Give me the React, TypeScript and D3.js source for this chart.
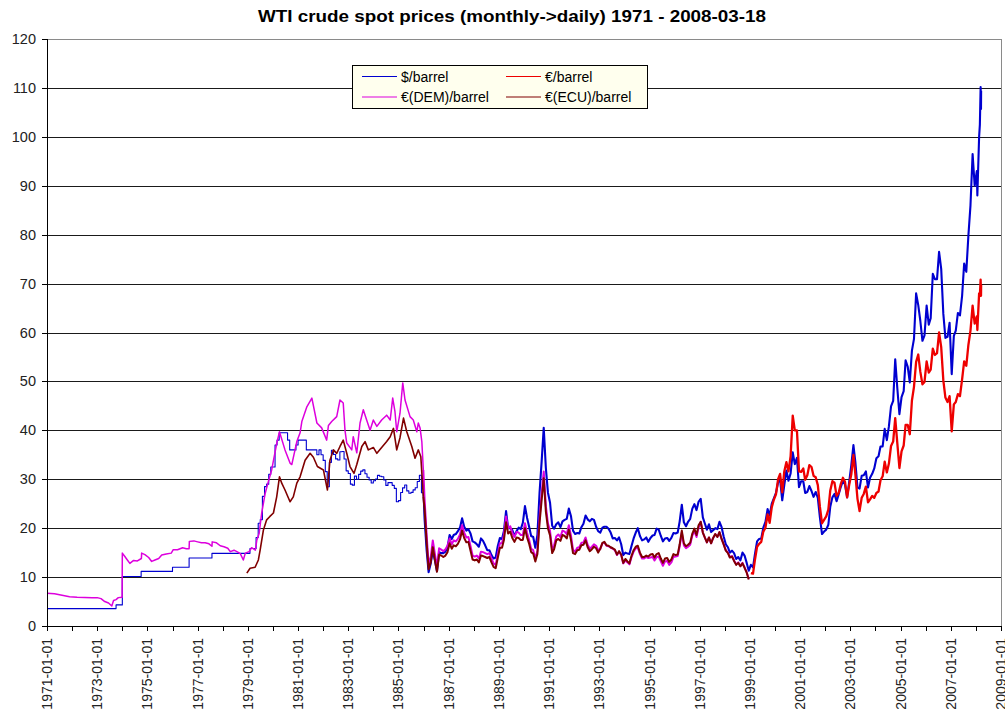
import React from "react";
import * as d3 from "d3";

const TITLE = "WTI crude spot prices (monthly->daily) 1971 - 2008-03-18";
const Y_TICKS = [0, 10, 20, 30, 40, 50, 60, 70, 80, 90, 100, 110, 120];
const X_TICK_YEARS = d3.range(1971, 2010);
const X_LABEL_YEARS = d3.range(1971, 2010, 2);

const LEGEND = [
  { key: "usd", label: "$/barrel", color: "#0000d0" },
  { key: "eur", label: "€/barrel", color: "#ee0000" },
  { key: "dem", label: "€(DEM)/barrel", color: "#dd00dd" },
  { key: "ecu", label: "€(ECU)/barrel", color: "#800000" },
];

// $/barrel: posted price periods (decimal year, value), stepped
const usdPosted: [number, number][] = [
  [1971.0, 3.56], [1973.75, 4.31], [1974.0, 10.11], [1974.75, 11.16],
  [1976.0, 12.0], [1976.66, 13.9], [1977.57, 14.85],
];
// $/barrel monthly 1979-01 .. 1985-12 (stepped)
const usdMonthly1979: number[] = [
  14.85, 15.85, 15.85, 15.85, 18.1, 21.0, 21.75, 26.5, 28.5, 29.0, 31.0, 32.5,
  32.5, 37.0, 38.0, 39.5, 39.5, 39.5, 39.5, 38.0, 36.0, 36.0, 36.0, 37.0,
  38.0, 38.0, 38.0, 38.0, 36.0, 36.0, 36.0, 36.0, 36.0, 35.0, 36.0, 35.0,
  33.85, 31.56, 28.48, 33.45, 35.93, 35.07, 34.16, 33.95, 35.63, 35.68, 34.15, 31.72,
  31.19, 29.0, 28.79, 30.63, 30.0, 31.0, 31.66, 31.91, 31.11, 30.41, 29.84, 29.24,
  29.7, 30.05, 30.8, 30.61, 30.5, 29.84, 28.74, 29.3, 29.3, 28.75, 28.14, 25.4,
  25.64, 27.3, 28.24, 28.81, 27.62, 27.13, 27.31, 27.82, 28.25, 29.54, 30.81, 27.23,
];
// $/barrel monthly 1986-01 .. 2008-01
const usdMonthly1986: number[] = [
  22.0, 15.4, 11.0, 12.8, 15.4, 13.4, 11.2, 15.1, 14.9, 14.9, 15.2, 16.1,
  18.6, 17.8, 18.6, 18.8, 19.4, 20.1, 22.0, 20.3, 19.5, 19.8, 18.9, 17.3,
  17.1, 16.7, 16.2, 17.9, 17.4, 16.5, 15.5, 15.5, 14.5, 13.8, 14.0, 16.3,
  18.0, 17.8, 19.4, 23.5, 20.0, 20.0, 19.6, 18.4, 19.4, 20.1, 19.8, 21.1,
  24.5, 22.1, 20.4, 18.4, 18.2, 16.0, 18.6, 27.2, 33.7, 40.5, 32.3, 27.3,
  25.2, 20.5, 19.9, 20.8, 21.2, 20.2, 21.4, 21.7, 21.9, 24.0, 22.5, 19.5,
  18.8, 19.0, 18.9, 20.2, 20.9, 22.6, 21.8, 21.4, 21.9, 21.7, 20.3, 19.4,
  19.1, 20.1, 20.3, 20.3, 19.9, 19.1, 17.9, 18.0, 17.5, 18.1, 16.7, 14.5,
  15.0, 14.8, 14.7, 16.4, 17.9, 19.1, 20.0, 18.4, 17.5, 17.7, 18.1, 17.2,
  18.0, 18.5, 18.6, 19.9, 19.7, 18.4, 17.3, 17.9, 18.0, 17.4, 18.0, 19.0,
  18.9, 19.1, 21.4, 24.8, 21.2, 20.4, 21.3, 21.9, 24.0, 24.9, 23.7, 25.4,
  26.0, 22.2, 21.0, 19.7, 20.8, 19.2, 19.6, 20.0, 19.8, 21.3, 20.2, 18.3,
  16.7, 16.1, 15.0, 15.4, 14.9, 13.7, 14.1, 13.4, 15.0, 14.4, 12.9, 11.3,
  12.5, 12.0, 14.7, 17.3, 17.8, 17.9, 20.1, 21.3, 23.9, 22.6, 25.0, 26.1,
  27.2, 29.4, 29.9, 25.7, 28.8, 31.8, 29.7, 31.2, 35.5, 33.1, 34.4, 28.4,
  29.6, 29.6, 27.2, 27.4, 28.6, 27.6, 26.4, 27.4, 26.2, 22.2, 18.8, 19.3,
  19.7, 20.7, 24.4, 26.3, 27.0, 25.5, 26.9, 28.4, 29.7, 28.9, 26.3, 29.4,
  32.9, 37.0, 33.5, 28.3, 28.1, 30.7, 30.8, 31.6, 28.3, 30.3, 31.1, 32.2,
  34.3, 34.7, 36.7, 36.7, 40.3, 38.0, 40.8, 44.9, 46.0, 54.5, 48.5, 43.3,
  46.8, 48.0, 54.3, 53.0, 49.8, 56.3, 58.7, 68.0, 65.6, 62.4, 58.3, 59.4,
  65.5, 61.6, 62.9, 72.0, 70.9, 70.9, 76.5, 73.0, 63.8, 58.9, 59.1, 62.0,
  51.5, 59.3, 60.4, 64.0, 63.5, 67.5, 74.1, 72.4, 79.9, 86.0, 96.5, 90.0,
  93.0,
];
const usdTail: [number, number][] = [
  [2008.06, 88.0], [2008.13, 100.0], [2008.16, 102.5], [2008.19, 110.2], [2008.205, 105.7], [2008.21, 109.4],
];

// €/barrel monthly 1999-01 .. 2008-01
const eurMonthly1999: number[] = [
  10.8, 10.7, 13.5, 16.2, 16.8, 17.2, 19.3, 20.1, 22.8, 21.1, 24.3, 25.8,
  26.9, 30.0, 31.1, 27.3, 31.6, 33.5, 31.6, 34.7, 43.0, 40.0, 40.0, 31.6,
  31.5, 32.2, 29.9, 30.8, 32.9, 32.5, 30.7, 30.4, 28.8, 24.4, 21.0, 21.7,
  22.4, 23.8, 27.7, 29.6, 29.3, 26.6, 27.2, 29.0, 30.3, 29.5, 26.3, 28.8,
  31.0, 35.0, 31.0, 26.0, 23.5, 26.2, 27.0, 28.5, 25.3, 25.9, 26.6, 26.2,
  27.2, 27.5, 29.8, 30.6, 33.6, 31.4, 33.2, 36.8, 37.7, 42.5, 37.3, 32.3,
  35.7, 36.9, 41.1, 41.1, 39.2, 46.1, 48.9, 54.0, 55.5, 52.0, 49.4, 49.9,
  54.1, 51.8, 52.4, 56.7, 55.4, 55.8, 60.0, 57.0, 50.2, 46.7, 45.8, 47.0,
  39.8, 45.3, 45.8, 47.4, 47.0, 50.4, 54.1, 53.2, 57.5, 60.4, 65.5, 61.8,
  63.3,
];
const eurTail: [number, number][] = [
  [2008.06, 60.5], [2008.13, 68.0], [2008.16, 67.5], [2008.19, 70.8], [2008.205, 67.5], [2008.21, 69.7],
];

// €(DEM)/barrel 1971 .. 1985 (decimal year, value)
const demEarly: [number, number][] = [
  [1971.0, 6.7], [1971.3, 6.6], [1971.6, 6.3], [1971.9, 6.0], [1972.2, 5.9], [1972.5, 5.85],
  [1972.8, 5.8], [1973.0, 5.8], [1973.15, 5.6], [1973.3, 5.0], [1973.45, 4.7], [1973.58, 4.1],
  [1973.65, 5.2], [1973.75, 5.4], [1973.84, 5.8], [1973.99, 5.9], [1974.0, 14.9], [1974.1, 14.2],
  [1974.2, 13.5], [1974.3, 12.8], [1974.45, 13.4], [1974.6, 13.3], [1974.76, 13.8], [1974.77, 14.9],
  [1974.9, 14.6], [1975.05, 14.0], [1975.17, 13.2], [1975.3, 13.5], [1975.45, 13.8], [1975.57, 14.5],
  [1975.75, 14.7], [1975.95, 14.9], [1976.03, 15.6], [1976.2, 15.6], [1976.4, 16.0], [1976.55, 15.8],
  [1976.66, 15.8], [1976.67, 17.3], [1976.85, 17.4], [1977.0, 17.2], [1977.15, 17.0], [1977.3, 17.0],
  [1977.45, 16.8], [1977.57, 16.3], [1977.58, 17.2], [1977.75, 17.0], [1977.9, 16.4], [1978.05, 16.2],
  [1978.2, 15.9], [1978.3, 15.2], [1978.45, 15.5], [1978.6, 15.1], [1978.7, 14.8], [1978.82, 13.5],
  [1978.9, 14.9], [1979.05, 15.2], [1979.15, 16.0], [1979.3, 15.5], [1979.36, 17.6], [1979.45, 18.9],
  [1979.55, 23.0], [1979.69, 27.1], [1979.8, 29.2], [1979.95, 31.9], [1980.15, 37.3], [1980.26, 39.7],
  [1980.48, 36.0], [1980.68, 33.3], [1980.75, 33.0], [1980.95, 37.7], [1981.08, 39.5], [1981.15, 41.8],
  [1981.35, 44.8], [1981.55, 46.6], [1981.75, 41.5], [1981.94, 40.5], [1982.14, 38.0], [1982.21, 41.0],
  [1982.34, 41.8], [1982.54, 42.8], [1982.67, 46.2], [1982.8, 45.6], [1982.87, 40.0], [1982.94, 37.4],
  [1983.14, 36.0], [1983.2, 38.7], [1983.34, 35.4], [1983.47, 41.5], [1983.6, 44.2], [1983.74, 42.0],
  [1983.87, 40.0], [1984.0, 42.1], [1984.14, 40.8], [1984.33, 42.1], [1984.53, 43.1], [1984.67, 42.1],
  [1984.77, 46.6], [1984.86, 43.8], [1984.93, 39.7], [1985.06, 43.5], [1985.17, 49.7], [1985.26, 46.2],
  [1985.46, 42.8], [1985.59, 42.1], [1985.73, 39.7], [1985.79, 41.5], [1985.86, 40.5], [1985.93, 37.7],
  [1985.99, 31.9],
];
// €(DEM)/barrel monthly 1986-01 .. 1998-12
const demMonthly1986: number[] = [
  26.0, 18.5, 12.6, 14.1, 17.5, 14.7, 12.1, 15.9, 15.6, 15.3, 15.7, 16.4,
  17.9, 16.7, 17.5, 17.3, 17.8, 18.7, 20.6, 19.1, 18.1, 18.2, 16.3, 14.4,
  14.2, 14.4, 13.8, 15.2, 15.1, 14.9, 14.7, 14.9, 13.8, 12.8, 12.5, 14.7,
  16.9, 16.9, 18.6, 22.4, 20.0, 20.4, 19.0, 18.2, 19.2, 19.1, 18.6, 18.6,
  21.0, 19.0, 17.7, 15.8, 15.5, 13.8, 15.4, 22.0, 27.0, 31.6, 24.5, 21.0,
  19.4, 15.6, 16.5, 18.3, 18.7, 18.2, 19.5, 19.3, 18.8, 20.6, 18.5, 15.6,
  15.2, 16.0, 16.1, 17.0, 17.1, 18.1, 16.6, 15.8, 16.2, 16.7, 16.4, 15.5,
  15.7, 16.9, 17.1, 16.4, 16.3, 16.0, 15.8, 15.5, 14.5, 15.2, 14.5, 12.8,
  13.4, 13.0, 12.6, 14.1, 15.2, 15.9, 16.0, 14.7, 13.8, 13.8, 14.1, 13.9,
  14.0, 14.1, 13.4, 14.1, 14.2, 13.2, 12.3, 13.2, 13.3, 12.5, 13.0, 14.1,
  14.2, 14.3, 16.3, 19.1, 16.5, 15.9, 16.2, 16.6, 18.5, 19.4, 18.2, 20.1,
  21.3, 19.1, 18.1, 17.1, 18.1, 16.9, 18.0, 18.8, 18.2, 19.2, 17.8, 16.7,
  15.5, 15.0, 14.1, 14.3, 13.4, 12.6, 13.0, 12.3, 12.9, 12.0, 11.0, 9.6,
];

// €(ECU)/barrel 1979 .. 1985 (decimal year, value)
const ecuEarly: [number, number][] = [
  [1978.96, 10.8], [1979.09, 11.8], [1979.29, 12.0], [1979.42, 13.5], [1979.49, 15.5], [1979.62, 19.6],
  [1979.75, 21.7], [1979.88, 22.4], [1980.02, 23.1], [1980.15, 26.4], [1980.26, 30.5], [1980.35, 29.2],
  [1980.48, 27.8], [1980.68, 25.4], [1980.81, 26.4], [1980.95, 29.2], [1981.08, 30.5], [1981.28, 33.9],
  [1981.48, 35.3], [1981.61, 34.5], [1981.77, 32.6], [1982.01, 31.9], [1982.17, 27.8], [1982.27, 33.9],
  [1982.41, 36.0], [1982.54, 35.3], [1982.67, 36.7], [1982.8, 38.0], [1982.94, 35.3], [1983.07, 32.6],
  [1983.23, 31.2], [1983.34, 33.0], [1983.54, 36.7], [1983.67, 37.7], [1983.8, 36.0], [1984.0, 36.5],
  [1984.14, 35.3], [1984.33, 36.5], [1984.53, 37.7], [1984.67, 38.7], [1984.8, 40.4], [1984.93, 36.0],
  [1985.06, 38.5], [1985.2, 42.5], [1985.33, 39.7], [1985.53, 36.7], [1985.66, 34.3], [1985.79, 36.0],
  [1985.89, 34.6], [1985.99, 26.4],
];
// €(ECU)/barrel monthly 1986-01 .. 1998-12
const ecuMonthly1986: number[] = [
  24.0, 17.0, 11.6, 13.0, 16.1, 13.5, 11.1, 14.6, 14.4, 14.1, 14.4, 15.1,
  16.9, 15.8, 16.5, 16.3, 16.8, 17.7, 19.5, 18.0, 17.1, 17.2, 15.4, 13.6,
  13.4, 13.6, 13.0, 14.4, 14.3, 14.1, 13.9, 14.1, 13.0, 12.1, 11.8, 13.9,
  16.0, 16.0, 17.6, 21.2, 18.9, 19.3, 18.0, 17.2, 18.1, 18.0, 17.6, 17.6,
  20.0, 18.1, 16.9, 15.1, 14.8, 13.2, 14.7, 21.0, 25.8, 30.2, 23.4, 20.0,
  18.5, 14.9, 15.7, 17.5, 17.8, 17.4, 18.6, 18.4, 17.9, 19.7, 17.6, 14.9,
  14.7, 15.5, 15.6, 16.5, 16.6, 17.5, 16.1, 15.3, 15.7, 16.2, 15.9, 15.0,
  15.8, 17.0, 17.2, 16.5, 16.4, 16.1, 15.9, 15.6, 14.6, 15.3, 14.6, 12.9,
  13.7, 13.2, 12.8, 14.4, 15.5, 16.2, 16.4, 15.0, 14.1, 14.1, 14.4, 14.2,
  14.6, 14.7, 14.0, 14.7, 14.9, 13.8, 12.9, 13.8, 13.9, 13.1, 13.6, 14.7,
  14.5, 14.6, 16.7, 19.5, 16.9, 16.3, 16.6, 17.0, 18.9, 19.9, 18.6, 20.6,
  21.3, 19.1, 18.1, 17.1, 18.1, 16.9, 18.0, 18.8, 18.2, 19.2, 17.8, 16.7,
  15.4, 14.9, 14.0, 14.2, 13.3, 12.5, 12.9, 12.2, 12.8, 11.9, 10.9, 9.5,
];

type Pt = { d: Date; v: number };

const decYear = (y: number): Date => {
  const yr = Math.floor(y);
  const s = Date.UTC(yr, 0, 1);
  const e = Date.UTC(yr + 1, 0, 1);
  return new Date(s + (y - yr) * (e - s));
};
const fromTuples = (arr: [number, number][]): Pt[] => arr.map(([y, v]) => ({ d: decYear(y), v }));
const fromMonthly = (y0: number, vals: number[], day = 15): Pt[] =>
  vals.map((v, i) => ({ d: new Date(Date.UTC(y0, i, day)), v }));

const W = 1005;
const H = 711;
const PLOT = { left: 47, right: 1001, top: 39, bottom: 626 };
const FONT = "'Liberation Sans', Arial, sans-serif";

export default function App() {
  const x = d3
    .scaleUtc()
    .domain([new Date(Date.UTC(1971, 0, 1)), new Date(Date.UTC(2009, 0, 1))])
    .range([PLOT.left, PLOT.right]);
  const y = d3.scaleLinear().domain([0, 120]).range([PLOT.bottom, PLOT.top]);

  const lineLin = d3.line<Pt>().x((p) => x(p.d)).y((p) => y(p.v));
  const lineStep = d3
    .line<Pt>()
    .x((p) => x(p.d))
    .y((p) => y(p.v))
    .curve(d3.curveStepAfter);

  const usdStepPts: Pt[] = [
    ...fromTuples(usdPosted),
    ...fromMonthly(1979, usdMonthly1979, 1),
    { d: new Date(Date.UTC(1986, 0, 1)), v: usdMonthly1979[usdMonthly1979.length - 1] },
  ];
  const usdDailyPts: Pt[] = [
    usdStepPts[usdStepPts.length - 1],
    ...fromMonthly(1986, usdMonthly1986),
    ...fromTuples(usdTail),
  ];
  const eurPts: Pt[] = [...fromMonthly(1999, eurMonthly1999), ...fromTuples(eurTail)];
  const demEarlyPts = fromTuples(demEarly);
  const demLatePts: Pt[] = [demEarlyPts[demEarlyPts.length - 1], ...fromMonthly(1986, demMonthly1986)];
  const ecuEarlyPts = fromTuples(ecuEarly);
  const ecuLatePts: Pt[] = [ecuEarlyPts[ecuEarlyPts.length - 1], ...fromMonthly(1986, ecuMonthly1986)];

  const col = (k: string) => LEGEND.find((l) => l.key === k)!.color;

  return (
    <svg
      width={W}
      height={H}
      style={{ position: "absolute", left: 0, top: 0, background: "#ffffff" }}
      fontFamily={FONT}
    >
      <rect x={0} y={0} width={W} height={H} fill="#ffffff" />
      <text
        x={512}
        y={22}
        textAnchor="middle"
        fontSize={17}
        fontWeight="bold"
        fill="#000"
        textLength={508}
        lengthAdjust="spacingAndGlyphs"
      >
        {TITLE}
      </text>

      <line x1={PLOT.left} x2={PLOT.right} y1={PLOT.top + 0.5} y2={PLOT.top + 0.5} stroke="#8a8a8a" />
      <line x1={PLOT.right + 0.5} x2={PLOT.right + 0.5} y1={PLOT.top} y2={PLOT.bottom} stroke="#8a8a8a" />

      {Y_TICKS.filter((t) => t > 0 && t < 120).map((t) => (
        <line
          key={"g" + t}
          x1={PLOT.left}
          x2={PLOT.right}
          y1={Math.round(y(t)) + 0.5}
          y2={Math.round(y(t)) + 0.5}
          stroke="#1a1a1a"
          strokeWidth={1}
        />
      ))}

      <g fill="none" strokeLinejoin="round">
        <path d={lineStep(usdStepPts) || ""} stroke={col("usd")} strokeWidth={1.1} />
        <path d={lineLin(usdDailyPts) || ""} stroke={col("usd")} strokeWidth={2.1} />
        <path d={lineLin(eurPts) || ""} stroke={col("eur")} strokeWidth={2.3} />
        <path d={lineLin(demEarlyPts) || ""} stroke={col("dem")} strokeWidth={1.5} />
        <path d={lineLin(demLatePts) || ""} stroke={col("dem")} strokeWidth={2.0} />
        <path d={lineLin(ecuEarlyPts) || ""} stroke={col("ecu")} strokeWidth={1.6} />
        <path d={lineLin(ecuLatePts) || ""} stroke={col("ecu")} strokeWidth={2.0} />
      </g>

      <line x1={PLOT.left + 0.5} x2={PLOT.left + 0.5} y1={PLOT.top} y2={PLOT.bottom} stroke="#000" />
      <line x1={PLOT.left} x2={PLOT.right + 1} y1={PLOT.bottom + 0.5} y2={PLOT.bottom + 0.5} stroke="#000" />

      {Y_TICKS.map((t) => (
        <g key={"y" + t}>
          <line
            x1={PLOT.left - 5}
            x2={PLOT.left}
            y1={Math.round(y(t)) + 0.5}
            y2={Math.round(y(t)) + 0.5}
            stroke="#000"
          />
          <text x={36} y={y(t)} textAnchor="end" dominantBaseline="central" fontSize={14.5} fill="#222">
            {t}
          </text>
        </g>
      ))}

      {X_TICK_YEARS.map((yr) => {
        const px = Math.round(x(new Date(Date.UTC(yr, 0, 1)))) + 0.5;
        return <line key={"xt" + yr} x1={px} x2={px} y1={PLOT.bottom} y2={PLOT.bottom + 5} stroke="#000" />;
      })}
      {X_LABEL_YEARS.map((yr) => {
        const px = x(new Date(Date.UTC(yr, 0, 1)));
        return (
          <text
            key={"xl" + yr}
            transform={`translate(${px},${PLOT.bottom + 12}) rotate(-90)`}
            textAnchor="end"
            dominantBaseline="central"
            fontSize={14}
            fill="#222"
          >
            {`${yr}-01-01`}
          </text>
        );
      })}

      <g>
        <rect x={352.5} y={65.5} width={295} height={43} fill="#ffffee" stroke="#000" />
        {LEGEND.map((l, i) => {
          const cx = i % 2 === 0 ? 362 : 506;
          const cy = i < 2 ? 76.5 : 97;
          return (
            <g key={l.key}>
              <line x1={cx} x2={cx + 35} y1={cy} y2={cy} stroke={l.color} strokeWidth={1.2} />
              <text x={cx + 39} y={cy} dominantBaseline="central" fontSize={14} fill="#000">
                {l.label}
              </text>
            </g>
          );
        })}
      </g>
    </svg>
  );
}
